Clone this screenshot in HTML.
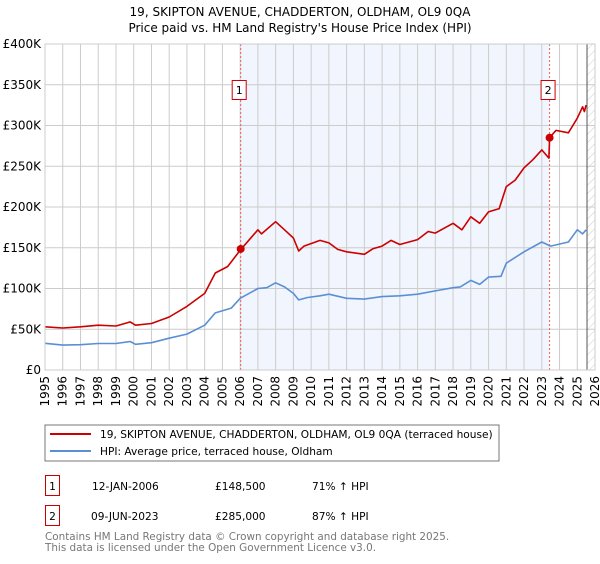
<!DOCTYPE html>
<html><head><meta charset="utf-8"><style>
body{margin:0;background:#fff;font-family:"DejaVu Sans","Liberation Sans",sans-serif;}
svg text{font-family:"DejaVu Sans","Liberation Sans",sans-serif;}
</style></head><body>
<svg id="c" width="600" height="560" xmlns="http://www.w3.org/2000/svg">
<defs><pattern id="hatch" width="6" height="6" patternUnits="userSpaceOnUse" patternTransform="rotate(45)"><line x1="0" y1="0" x2="0" y2="6" stroke="#ccc" stroke-width="1"/></pattern></defs>
<text x="300" y="16" text-anchor="middle" font-size="12">19, SKIPTON AVENUE, CHADDERTON, OLDHAM, OL9 0QA</text>
<text x="300" y="32" text-anchor="middle" font-size="12">Price paid vs. HM Land Registry's House Price Index (HPI)</text>
<g id="plot"></g>
<rect x="45" y="425" width="454" height="36" fill="#fff" stroke="#777"/>
<line x1="50" y1="434" x2="91" y2="434" stroke="#cc0000" stroke-width="2"/>
<text x="100" y="438" font-size="10.6">19, SKIPTON AVENUE, CHADDERTON, OLDHAM, OL9 0QA (terraced house)</text>
<line x1="50" y1="451" x2="91" y2="451" stroke="#5b8fd4" stroke-width="2"/>
<text x="100" y="455" font-size="10.6">HPI: Average price, terraced house, Oldham</text>
<rect x="45.5" y="475.5" width="14" height="20" fill="none" stroke="#cc0000"/>
<text x="52.5" y="490" text-anchor="middle" font-size="10.6">1</text>
<text x="92" y="490" font-size="10.6">12-JAN-2006</text>
<text x="215" y="490" font-size="10.6">£148,500</text>
<text x="312" y="490" font-size="10.6">71% ↑ HPI</text>
<rect x="45.5" y="505.5" width="14" height="20" fill="none" stroke="#cc0000"/>
<text x="52.5" y="520" text-anchor="middle" font-size="10.6">2</text>
<text x="91" y="520" font-size="10.6">09-JUN-2023</text>
<text x="215" y="520" font-size="10.6">£285,000</text>
<text x="312" y="520" font-size="10.6">87% ↑ HPI</text>
<text x="45" y="540" font-size="10.4" fill="#777">Contains HM Land Registry data © Crown copyright and database right 2025.</text>
<text x="45" y="551" font-size="10.4" fill="#777">This data is licensed under the Open Government Licence v3.0.</text>
</svg>
<script>
const yTicks=[0,50,100,150,200,250,300,350,400];
const yTickLabels=["£0","£50K","£100K","£150K","£200K","£250K","£300K","£350K","£400K"];
const xYears=[1995,1996,1997,1998,1999,2000,2001,2002,2003,2004,2005,2006,2007,2008,2009,2010,2011,2012,2013,2014,2015,2016,2017,2018,2019,2020,2021,2022,2023,2024,2025,2026];
const hpiDates=[1995,1996,1997,1998,1999,1999.8,2000.1,2001,2002,2003,2004,2004.6,2005.5,2006,2007,2007.5,2008,2008.5,2009,2009.3,2009.8,2010.5,2011,2012,2013,2014,2015,2016,2017,2018,2018.4,2019,2019.5,2020,2020.7,2021,2022,2023,2023.5,2024.5,2025,2025.3,2025.5];
const hpiValues=[32.7,30.5,31,32.5,32.5,35,31.5,33.5,39,44,55,70,76,88,100,101,107,102,94,86,89,91,93,88,87,90,91,93,97,101,102,110,105,114,115,131,145,157,152,157,172,167,172];
const propDates=[1995,1996,1997,1998,1999,1999.8,2000.1,2001,2002,2003,2004,2004.6,2005.3,2006,2007,2007.2,2008,2008.5,2009,2009.3,2009.6,2010.5,2011,2011.5,2012,2013,2013.5,2014,2014.5,2015,2016,2016.6,2017,2018,2018.5,2019,2019.5,2020,2020.6,2021,2021.5,2022,2022.5,2023,2023.4,2023.44,2023.8,2024.5,2025,2025.3,2025.4,2025.5];
const propValues=[53,51.5,53,55,54,59,55,57,65,78,94,119,127,147,172,167,182,172,162,146,152,159,156,148,145,142,149,152,159,154,160,170,168,180,172,188,180,194,198,225,233,248,258,270,260,285,294,291,309,323,317,325];
const saleDates=[2006.03,2023.44];
const saleValues=[148.5,285];
const saleLabels=["1","2"];
const X0=45,X1=595,Y0=370,Y1=44;
const xs=y=>X0+(y-1995)/(2026-1995)*(X1-X0);
const ys=v=>Y0-v/400*(Y0-Y1);
const NS="http://www.w3.org/2000/svg";
const g=document.getElementById('plot');
function mk(t,a){const e=document.createElementNS(NS,t);for(const k in a)e.setAttribute(k,a[k]);g.appendChild(e);return e;}
let e;
e=mk('rect',{x:xs(saleDates[0]),y:Y1,width:xs(saleDates[1])-xs(saleDates[0]),height:Y0-Y1,fill:'#eef3fc',opacity:0.8});


e=mk('rect',{x:xs(2025.55),y:Y1,width:X1-xs(2025.55),height:Y0-Y1,fill:'url(#hatch)'});


yTicks.forEach((v,i)=>{
 e=mk('line',{x1:X0,x2:X1,y1:ys(v),y2:ys(v),stroke:'#ccc','stroke-width':1});
 
 
 e=mk('text',{x:X0-4,y:ys(v)+4,'text-anchor':'end','font-size':12});
 e.textContent=yTickLabels[i];
 
 
});
xYears.forEach(yr=>{
 e=mk('line',{x1:xs(yr),x2:xs(yr),y1:Y1,y2:Y0,stroke:'#ccc','stroke-width':1});
 
 
 e=mk('text',{x:0,y:0,'font-size':12,'text-anchor':'end',transform:`translate(${xs(yr)+4},${Y0+6}) rotate(-90)`});
 e.textContent=yr;
 
 
});
e=mk('line',{x1:xs(2025.55),x2:xs(2025.55),y1:Y1,y2:Y0,stroke:'#555','stroke-width':1});


saleDates.forEach((d,i)=>{
 e=mk('line',{x1:xs(d),x2:xs(d),y1:Y1,y2:Y0,stroke:'#f06060','stroke-width':1,'stroke-dasharray':'2,2'});
 
 
});
function line(dates,vals,col,name){
 const p=dates.map((d,i)=>`${i?'L':'M'}${xs(d).toFixed(1)},${ys(vals[i]).toFixed(1)}`).join('');
 e=mk('path',{d:p,fill:'none',stroke:col,'stroke-width':1.6,'stroke-linejoin':'round'});
 
 
}
line(hpiDates,hpiValues,'#5b8fd4','hpi-line');
line(propDates,propValues,'#cc0000','property-price-line');
saleDates.forEach((d,i)=>{
 e=mk('circle',{cx:xs(d),cy:ys(saleValues[i]),r:4,fill:'#cc0000'});
 
 
 e=mk('rect',{x:xs(d)-8.5,y:80.5,width:14,height:19,fill:'#fff',stroke:'#cc0000'});
 
 
 e=mk('text',{x:xs(d)-1.5,y:94,'text-anchor':'middle','font-size':11});
 e.textContent=saleLabels[i];
 
 
});
e=mk('rect',{x:X0,y:Y1,width:X1-X0,height:Y0-Y1,fill:'none',stroke:'#ccc'});


</script>
</body></html>
